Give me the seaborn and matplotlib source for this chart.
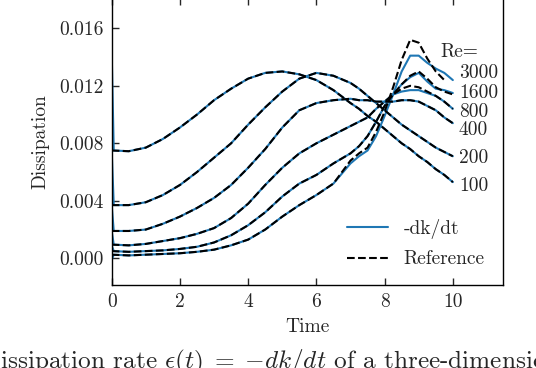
import matplotlib
matplotlib.use("Agg")
import matplotlib.pyplot as plt
import seaborn as sns
import numpy as np
import pandas as pd
from matplotlib.lines import Line2D

# ---------------- data ----------------
reynolds = [100, 200, 400, 800, 1600, 3000]

time = [0.0, 0.5, 1.0, 1.5, 2.0, 2.5, 3.0, 3.5, 4.0, 4.5, 5.0, 5.5, 6.0, 6.5,
        7.0, 7.25, 7.5, 7.75, 8.0, 8.25, 8.5, 8.75, 9.0, 9.25, 9.5, 9.75, 10.0]

ref_100 = [0.0075, 0.00745, 0.0077, 0.0083, 0.0091, 0.0100, 0.0110, 0.0118, 0.0125, 0.0129,
           0.0130, 0.0128, 0.0124, 0.0117, 0.0108, 0.0104, 0.0099, 0.0095, 0.0090, 0.0085,
           0.0080, 0.0076, 0.0071, 0.0067, 0.0062, 0.0058, 0.0053]
ref_200 = [0.0037, 0.0037, 0.0039, 0.0044, 0.0051, 0.0060, 0.0070, 0.0080, 0.0093, 0.0105,
           0.0116, 0.0125, 0.0129, 0.0127, 0.0122, 0.0118, 0.0113, 0.0108, 0.0103, 0.0098,
           0.0093, 0.0089, 0.0085, 0.0081, 0.0077, 0.0074, 0.0071]
ref_400 = [0.0019, 0.0019, 0.0020, 0.0024, 0.0029, 0.0035, 0.0042, 0.0051, 0.0063, 0.0076,
           0.0091, 0.0103, 0.0108, 0.0110, 0.0111, 0.0110, 0.0110, 0.0109, 0.0109, 0.0109,
           0.0110, 0.0110, 0.0109, 0.0106, 0.0103, 0.0098, 0.0094]
ref_800 = [0.00095, 0.0009, 0.0010, 0.0012, 0.0014, 0.0017, 0.0021, 0.0028, 0.0038, 0.0051,
           0.0063, 0.0073, 0.0080, 0.0086, 0.0092, 0.0095, 0.0098, 0.0104, 0.0109, 0.0114,
           0.0118, 0.0120, 0.0119, 0.0116, 0.0113, 0.0109, 0.0104]
ref_1600 = [0.0005, 0.00045, 0.0005, 0.00055, 0.00065, 0.0008, 0.0011, 0.0016, 0.0023, 0.0032,
            0.0043, 0.0052, 0.0058, 0.0066, 0.0073, 0.0078, 0.0085, 0.0095, 0.0106, 0.0114,
            0.0121, 0.0127, 0.0130, 0.0125, 0.0119, 0.0116, 0.0114]
ref_3000 = [0.00025, 0.0002, 0.00025, 0.0003, 0.00035, 0.00045, 0.0006, 0.0009, 0.0013, 0.0020,
            0.0029, 0.0037, 0.0044, 0.0052, 0.0068, 0.0073, 0.0077, 0.0088, 0.0102, 0.0119,
            0.0138, 0.0152, 0.0150, 0.0139, 0.0130, 0.0124, np.nan]

# -dk/dt series: an initial transient at t=0, then the resolved curve
dkdt_time = [0.0, 0.06, 0.5, 1.0, 1.5, 2.0, 2.5, 3.0, 3.5, 4.0, 4.5, 5.0, 5.5, 6.0, 6.5,
             7.0, 7.25, 7.5, 7.75, 8.0, 8.25, 8.5, 8.75, 9.0, 9.25, 9.5, 9.75, 10.0]
dkdt_100 = [0.0143, 0.0075, 0.00745, 0.0077, 0.0083, 0.0091, 0.0100, 0.0110, 0.0118, 0.0125, 0.0129,
            0.0130, 0.0128, 0.0124, 0.0117, 0.0108, 0.0104, 0.0099, 0.0095, 0.0090, 0.0085,
            0.0080, 0.0076, 0.0071, 0.0067, 0.0062, 0.0058, 0.0053]
dkdt_200 = [0.0075, 0.0037, 0.0037, 0.0039, 0.0044, 0.0051, 0.0060, 0.0070, 0.0080, 0.0093, 0.0105,
            0.0116, 0.0125, 0.0129, 0.0127, 0.0122, 0.0118, 0.0113, 0.0108, 0.0103, 0.0098,
            0.0093, 0.0089, 0.0085, 0.0081, 0.0077, 0.0074, 0.0071]
dkdt_400 = [0.0037, 0.0019, 0.0019, 0.0020, 0.0024, 0.0029, 0.0035, 0.0042, 0.0051, 0.0063, 0.0076,
            0.0091, 0.0103, 0.0108, 0.0110, 0.0111, 0.0110, 0.0110, 0.0109, 0.0109, 0.0109,
            0.0110, 0.0110, 0.0109, 0.0106, 0.0103, 0.0098, 0.0094]
dkdt_800 = [0.0019, 0.00095, 0.0009, 0.0010, 0.0012, 0.0014, 0.0017, 0.0021, 0.0028, 0.0038, 0.0051,
            0.0063, 0.0073, 0.0080, 0.0086, 0.0092, 0.0095, 0.0098, 0.0104, 0.0109, 0.0114,
            0.0116, 0.0117, 0.0117, 0.0115, 0.0113, 0.0109, 0.0104]
dkdt_1600 = [0.0009, 0.0005, 0.00045, 0.0005, 0.00055, 0.00065, 0.0008, 0.0011, 0.0016, 0.0023, 0.0032,
             0.0043, 0.0052, 0.0058, 0.0066, 0.0073, 0.0078, 0.0085, 0.0095, 0.0106, 0.0114,
             0.0121, 0.0126, 0.0129, 0.0123, 0.0118, 0.0117, 0.0115]
dkdt_3000 = [-0.0001, 0.00025, 0.0002, 0.00025, 0.0003, 0.00035, 0.00045, 0.0006, 0.0009, 0.0013, 0.0020,
             0.0029, 0.0037, 0.0044, 0.0052, 0.0066, 0.0071, 0.0075, 0.0085, 0.0099, 0.0114,
             0.0130, 0.0141, 0.0141, 0.0136, 0.0132, 0.0129, 0.0124]

ref_series = [ref_100, ref_200, ref_400, ref_800, ref_1600, ref_3000]
dkdt_series = [dkdt_100, dkdt_200, dkdt_400, dkdt_800, dkdt_1600, dkdt_3000]

x_ticks = [0, 2, 4, 6, 8, 10]
y_ticks = [0.000, 0.004, 0.008, 0.012, 0.016]
y_tick_labels = ["0.000", "0.004", "0.008", "0.012", "0.016"]
legend_labels = ["-dk/dt", "Reference"]

# ---------------- style ----------------
sns.set_style("ticks")
plt.rcParams["font.family"] = ["cmr10", "DejaVu Serif"]
plt.rcParams["mathtext.fontset"] = "cm"
plt.rcParams["axes.formatter.use_mathtext"] = True
plt.rcParams["axes.unicode_minus"] = False

BLUE = "#1f77b4"
FS = 14

fig = plt.figure(figsize=(5.36, 3.68), dpi=100)
ax = fig.add_axes([0.2084, 0.2255, 0.730, 0.7799])

for vals in dkdt_series:
    d = pd.DataFrame({"Time": dkdt_time, "Dissipation": vals})
    sns.lineplot(data=d, x="Time", y="Dissipation", ax=ax, color=BLUE,
                 linewidth=1.5, estimator=None, sort=False)
for vals in ref_series:
    d = pd.DataFrame({"Time": time, "Dissipation": vals})
    sns.lineplot(data=d, x="Time", y="Dissipation", ax=ax, color="black",
                 linewidth=1.5, linestyle="--", estimator=None, sort=False)

ax.set_xlim(0, 11.47)
ax.set_ylim(-0.00186, 0.01811)
ax.set_xticks(x_ticks)
ax.set_xticklabels([str(v) for v in x_ticks], fontsize=FS)
ax.set_yticks(y_ticks)
ax.set_yticklabels(y_tick_labels, fontsize=FS)
ax.tick_params(direction="in", length=5, width=1, top=True, right=False, pad=6)
for s in ax.spines.values():
    s.set_linewidth(1.0)
    s.set_color("black")
ax.set_xlabel("Time", fontsize=FS, labelpad=5)
ax.set_ylabel("Dissipation", fontsize=FS, labelpad=7)

# Re labels at the right end of the curves
label_y = [0.00503, 0.00698, 0.00893, 0.01018, 0.0115, 0.01289]
for re, yy in zip(reynolds, label_y):
    ax.text(10.18, yy, str(re), fontsize=FS, va="center", ha="left")
ax.text(9.63, 0.01435, "Re=", fontsize=FS, va="center", ha="left")

handles = [Line2D([], [], color=BLUE, lw=1.5),
           Line2D([], [], color="black", lw=1.5, linestyle="--")]
ax.legend(handles, legend_labels, loc="lower left", bbox_to_anchor=(0.582, 0.031),
          frameon=False, fontsize=FS, handlelength=2.1, handletextpad=0.8,
          labelspacing=0.6, borderaxespad=0.0)

fig.text(-0.036, 0.0,
         r"Dissipation rate $\epsilon(t)\;=\;{-}dk/dt$ of a three-dimensional Taylor-Green vortex",
         fontsize=18.2, va="baseline", ha="left")

fig.savefig("out.png", dpi=100)
